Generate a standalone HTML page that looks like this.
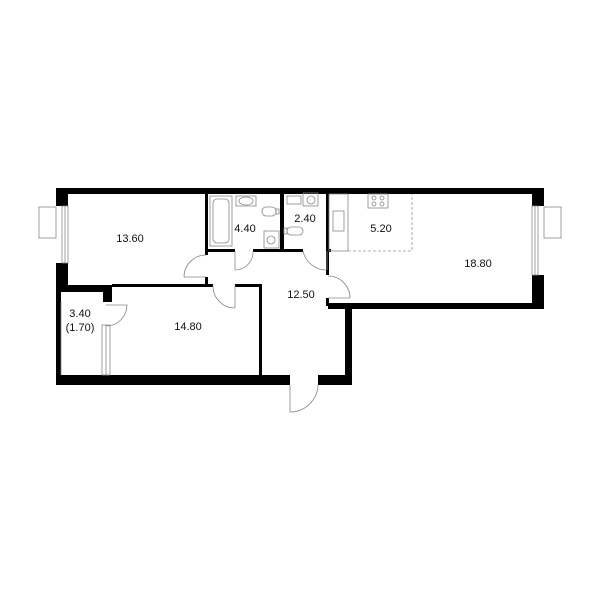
<!DOCTYPE html>
<html><head><meta charset="utf-8"><style>html,body{margin:0;padding:0;background:#fff}svg{display:block}text{font-family:"Liberation Sans",sans-serif;font-size:11px;fill:#111}</style></head><body>
<svg width="600" height="600" viewBox="0 0 600 600" xmlns="http://www.w3.org/2000/svg">
<g fill="#000">
<rect x="56" y="188" width="488" height="6"/>
<rect x="56" y="188" width="12" height="18"/>
<rect x="56" y="263" width="12" height="29"/>
<rect x="56" y="285" width="56" height="7"/>
<rect x="103" y="285" width="9" height="17"/>
<rect x="56" y="292" width="5" height="93"/>
<rect x="56" y="375" width="234" height="10"/>
<rect x="318" y="375" width="34" height="10"/>
<rect x="345" y="303" width="7" height="82"/>
<rect x="328" y="303" width="216" height="6"/>
<rect x="532" y="188" width="12" height="18"/>
<rect x="532" y="275" width="12" height="34"/>
<rect x="205" y="194" width="3" height="61"/>
<rect x="205" y="277" width="3" height="10"/>
<rect x="112" y="284" width="101" height="3"/>
<rect x="235" y="284" width="27" height="3"/>
<rect x="259" y="284" width="3" height="92"/>
<rect x="205" y="249" width="30" height="3"/>
<rect x="253" y="249" width="50" height="3"/>
<rect x="280" y="194" width="4" height="57"/>
<rect x="326" y="194" width="3" height="81"/>
<rect x="327" y="249" width="4" height="3"/>
<rect x="326" y="298" width="3" height="8"/>
</g>
<g fill="none" stroke="#888" stroke-width="0.8">
<rect x="62" y="206" width="6" height="57"/><line x1="65" y1="206" x2="65" y2="263"/>
<rect x="39" y="207" width="17" height="31"/>
<rect x="532" y="206" width="6" height="69"/><line x1="535" y1="206" x2="535" y2="275"/>
<rect x="544" y="207" width="17" height="31"/>
<rect x="102" y="325" width="8" height="50"/><line x1="106" y1="325" x2="106" y2="375"/>
<line x1="61" y1="302" x2="61" y2="375"/>
<path d="M184 277 H206 M184 277 A22 22 0 0 1 206 255"/>
<path d="M235 285 V308 M213 285 A22 22 0 0 0 235 308"/>
<path d="M235 251 V270 M235 270 A18 18 0 0 0 253 251"/>
<path d="M327 251 V270 M303 251 A24 24 0 0 0 327 270"/>
<path d="M328 298 H350 M350 298 A22 22 0 0 0 328 276"/>
<path d="M290 385 V412 M290 412 A28 28 0 0 0 318 385"/>
<path d="M106 305 H127 A21 21 0 0 1 106 326"/>
<rect x="210" y="196" width="22" height="50"/><rect x="213" y="199" width="16" height="44" rx="4"/>
<rect x="236" y="196" width="20" height="10"/><ellipse cx="246" cy="201" rx="7" ry="4"/>
<rect x="262" y="207" width="14" height="9" rx="4"/><rect x="276" y="209" width="3" height="5"/>
<rect x="264" y="231" width="15" height="17"/><circle cx="271" cy="240" r="4"/>
<rect x="287" y="196" width="14" height="8"/>
<rect x="303" y="193" width="15" height="13"/><circle cx="311" cy="200" r="4"/>
<rect x="287" y="227" width="16" height="8" rx="4"/><rect x="284" y="228" width="3" height="6"/>
<rect x="329" y="194" width="19" height="57"/>
<rect x="333" y="211" width="11" height="20"/>
<rect x="368" y="194" width="20" height="14"/>
<circle cx="374" cy="198" r="2"/><circle cx="382" cy="198" r="2"/><circle cx="374" cy="204" r="2"/><circle cx="382" cy="204" r="2"/>
</g>
<path d="M348 251 H412 V194" fill="none" stroke="#999" stroke-width="0.8" stroke-dasharray="3,2"/>
<text x="130" y="242" text-anchor="middle">13.60</text>
<text x="245" y="232" text-anchor="middle">4.40</text>
<text x="305" y="222" text-anchor="middle">2.40</text>
<text x="381" y="232" text-anchor="middle">5.20</text>
<text x="478" y="267" text-anchor="middle">18.80</text>
<text x="301" y="298" text-anchor="middle">12.50</text>
<text x="188" y="330" text-anchor="middle">14.80</text>
<text x="80" y="317" text-anchor="middle">3.40</text>
<text x="80" y="331" text-anchor="middle">(1.70)</text>
</svg>
</body></html>
